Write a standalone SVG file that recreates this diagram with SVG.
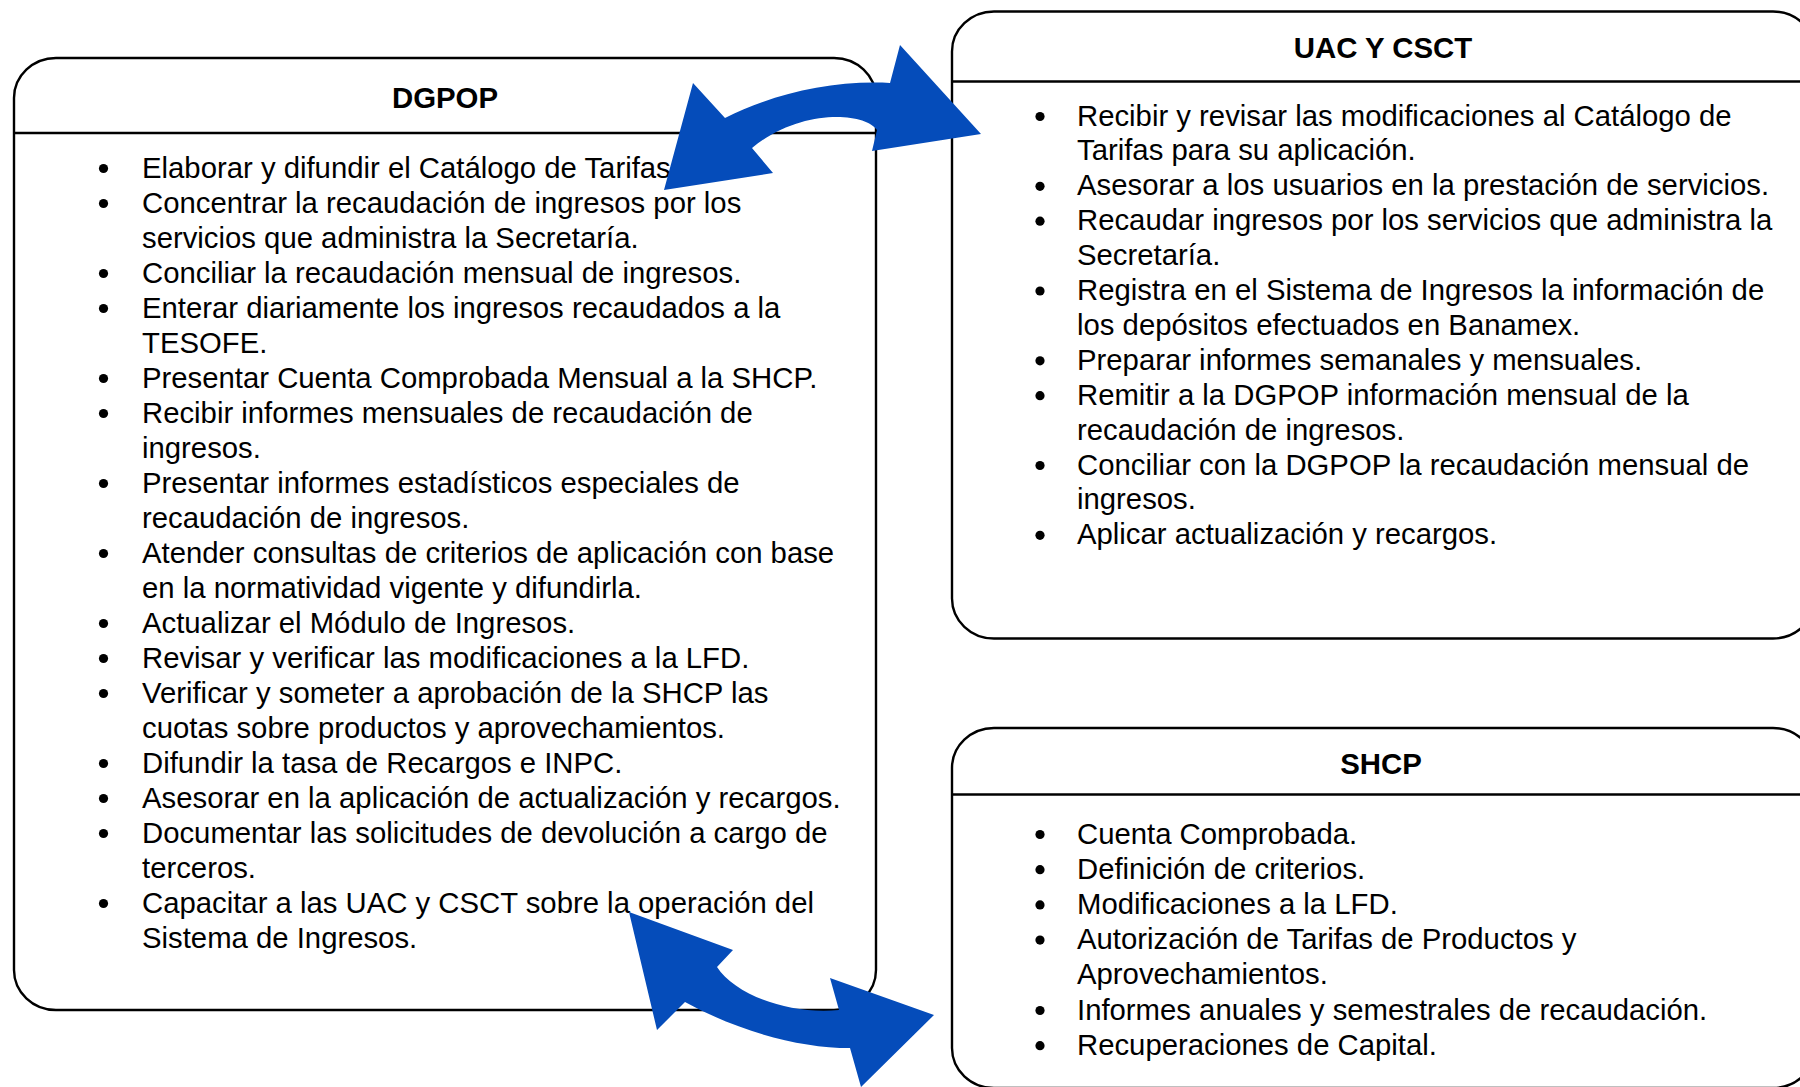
<svg xmlns="http://www.w3.org/2000/svg" width="1800" height="1087" viewBox="0 0 1800 1087">
<style>
.box{fill:#fff;stroke:#000;stroke-width:2.4}
.div{stroke:#000;stroke-width:2.4}
.t{font-family:"Liberation Sans",Arial,sans-serif;font-size:29.3px;fill:#000}
.h{font-family:"Liberation Sans",Arial,sans-serif;font-size:29.4px;font-weight:bold;fill:#000;text-anchor:middle}
.b{fill:#000}
.arr{fill:#054CBA}
</style>
<g id="dgpop">
<rect class="box" x="14" y="58" width="862" height="952" rx="42" ry="40"/>
<line class="div" x1="14" y1="133" x2="876" y2="133"/>
<text class="h" x="445" y="108">DGPOP</text>
<g class="b">
<circle cx="103.5" cy="168.5" r="4.6"/>
<circle cx="103.5" cy="203.5" r="4.6"/>
<circle cx="103.5" cy="273.5" r="4.6"/>
<circle cx="103.5" cy="308.5" r="4.6"/>
<circle cx="103.5" cy="378.5" r="4.6"/>
<circle cx="103.5" cy="413.5" r="4.6"/>
<circle cx="103.5" cy="483.5" r="4.6"/>
<circle cx="103.5" cy="553.5" r="4.6"/>
<circle cx="103.5" cy="623.5" r="4.6"/>
<circle cx="103.5" cy="658.5" r="4.6"/>
<circle cx="103.5" cy="693.5" r="4.6"/>
<circle cx="103.5" cy="763.5" r="4.6"/>
<circle cx="103.5" cy="798.5" r="4.6"/>
<circle cx="103.5" cy="833.5" r="4.6"/>
<circle cx="103.5" cy="903.5" r="4.6"/>
</g>
<text class="t" x="142" y="177.5">Elaborar y difundir el Catálogo de Tarifas.</text>
<text class="t" x="142" y="212.5">Concentrar la recaudación de ingresos por los</text>
<text class="t" x="142" y="247.5">servicios que administra la Secretaría.</text>
<text class="t" x="142" y="282.5">Conciliar la recaudación mensual de ingresos.</text>
<text class="t" x="142" y="317.5">Enterar diariamente los ingresos recaudados a la</text>
<text class="t" x="142" y="352.5">TESOFE.</text>
<text class="t" x="142" y="387.5">Presentar Cuenta Comprobada Mensual a la SHCP.</text>
<text class="t" x="142" y="422.5">Recibir informes mensuales de recaudación de</text>
<text class="t" x="142" y="457.5">ingresos.</text>
<text class="t" x="142" y="492.5">Presentar informes estadísticos especiales de</text>
<text class="t" x="142" y="527.5">recaudación de ingresos.</text>
<text class="t" x="142" y="562.5">Atender consultas de criterios de aplicación con base</text>
<text class="t" x="142" y="597.5">en la normatividad vigente y difundirla.</text>
<text class="t" x="142" y="632.5">Actualizar el Módulo de Ingresos.</text>
<text class="t" x="142" y="667.5">Revisar y verificar las modificaciones a la LFD.</text>
<text class="t" x="142" y="702.5">Verificar y someter a aprobación de la SHCP las</text>
<text class="t" x="142" y="737.5">cuotas sobre productos y aprovechamientos.</text>
<text class="t" x="142" y="772.5">Difundir la tasa de Recargos e INPC.</text>
<text class="t" x="142" y="807.5">Asesorar en la aplicación de actualización y recargos.</text>
<text class="t" x="142" y="842.5">Documentar las solicitudes de devolución a cargo de</text>
<text class="t" x="142" y="877.5">terceros.</text>
<text class="t" x="142" y="912.5">Capacitar a las UAC y CSCT sobre la operación del</text>
<text class="t" x="142" y="947.5">Sistema de Ingresos.</text>
</g>
<g id="uac">
<rect class="box" x="952" y="11.5" width="863" height="627" rx="42" ry="40"/>
<line class="div" x1="952" y1="81.5" x2="1815" y2="81.5"/>
<text class="h" x="1383" y="58">UAC Y CSCT</text>
<g class="b">
<circle cx="1040" cy="116.5" r="4.6"/>
<circle cx="1040" cy="186.3" r="4.6"/>
<circle cx="1040" cy="221.2" r="4.6"/>
<circle cx="1040" cy="291" r="4.6"/>
<circle cx="1040" cy="360.8" r="4.6"/>
<circle cx="1040" cy="395.7" r="4.6"/>
<circle cx="1040" cy="465.5" r="4.6"/>
<circle cx="1040" cy="535.3" r="4.6"/>
</g>
<text class="t" x="1077" y="125.5">Recibir y revisar las modificaciones al Catálogo de</text>
<text class="t" x="1077" y="160.4">Tarifas para su aplicación.</text>
<text class="t" x="1077" y="195.3">Asesorar a los usuarios en la prestación de servicios.</text>
<text class="t" x="1077" y="230.2">Recaudar ingresos por los servicios que administra la</text>
<text class="t" x="1077" y="265.1">Secretaría.</text>
<text class="t" x="1077" y="300">Registra en el Sistema de Ingresos la información de</text>
<text class="t" x="1077" y="334.9">los depósitos efectuados en Banamex.</text>
<text class="t" x="1077" y="369.8">Preparar informes semanales y mensuales.</text>
<text class="t" x="1077" y="404.7">Remitir a la DGPOP información mensual de la</text>
<text class="t" x="1077" y="439.6">recaudación de ingresos.</text>
<text class="t" x="1077" y="474.5">Conciliar con la DGPOP la recaudación mensual de</text>
<text class="t" x="1077" y="509.4">ingresos.</text>
<text class="t" x="1077" y="544.3">Aplicar actualización y recargos.</text>
</g>
<g id="shcp">
<rect class="box" x="952" y="728" width="863" height="360" rx="42" ry="40"/>
<line class="div" x1="952" y1="794.5" x2="1815" y2="794.5"/>
<text class="h" x="1381" y="774">SHCP</text>
<g class="b">
<circle cx="1040" cy="834.5" r="4.6"/>
<circle cx="1040" cy="869.7" r="4.6"/>
<circle cx="1040" cy="904.9" r="4.6"/>
<circle cx="1040" cy="940.1" r="4.6"/>
<circle cx="1040" cy="1010.5" r="4.6"/>
<circle cx="1040" cy="1045.7" r="4.6"/>
</g>
<text class="t" x="1077" y="843.5">Cuenta Comprobada.</text>
<text class="t" x="1077" y="878.7">Definición de criterios.</text>
<text class="t" x="1077" y="913.9">Modificaciones a la LFD.</text>
<text class="t" x="1077" y="949.1">Autorización de Tarifas de Productos y</text>
<text class="t" x="1077" y="984.3">Aprovechamientos.</text>
<text class="t" x="1077" y="1019.5">Informes anuales y semestrales de recaudación.</text>
<text class="t" x="1077" y="1054.7">Recuperaciones de Capital.</text>
</g>
<g id="connectors">
<path class="arr" d="M664,190 L693,83 L725,118 C770,95 830,80 890,83 L900,45 L981,134 L872,151 L877,130 C865,112 800,108 752,148 L773,173 Z"/>
<path class="arr" d="M629,912 L733,950 L717,967 C735,995 790,1015 839,1010 L830,978 L934,1015 L861,1087 L850,1048 C800,1048 740,1032 685,1002 L657,1030 Z"/>
</g>
</svg>
